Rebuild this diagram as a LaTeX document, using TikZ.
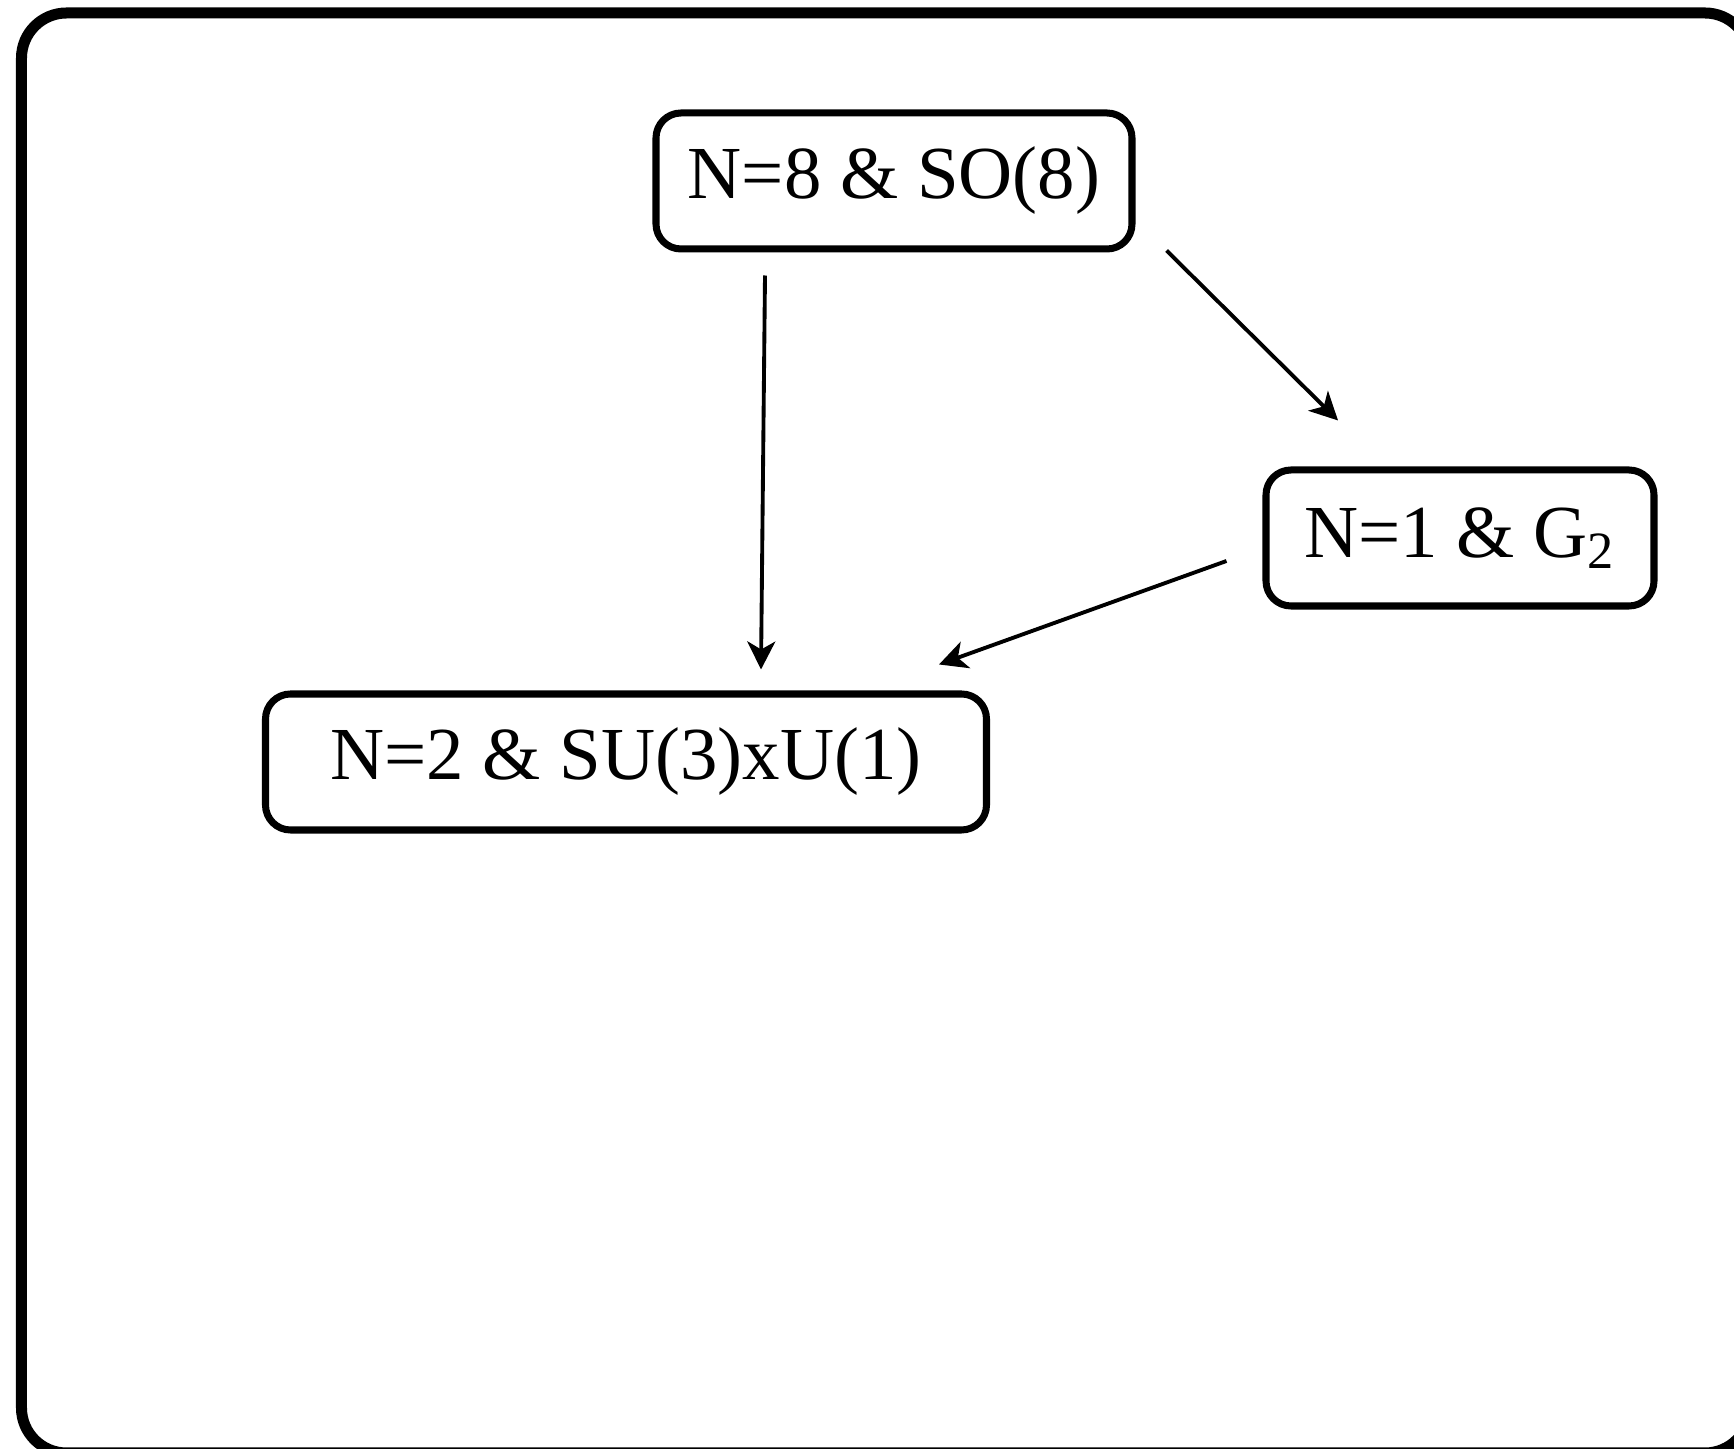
\documentclass[tikz,border=0pt]{standalone}
\usepackage{fontspec}
\setmainfont{Liberation Serif}
\usetikzlibrary{arrows.meta}

\tikzset{
    groupbox/.style={draw, line width=2pt, rounded corners=0.25cm,
        minimum height=1.36cm, inner sep=0pt,
        font=\fontsize{21.3}{25}\selectfont},
    flow/.style={-{Stealth[length=0.28cm, width=0.28cm, inset=0.08cm]}, line width=1.1pt}
}

\begin{document}
\begin{tikzpicture}
        \useasboundingbox (0,0) rectangle (17.34,14.49);
        \draw[line width=0.11cm, rounded corners=0.45cm] (0.215,-0.04) rectangle (17.50,14.36);

        \node[groupbox, minimum width=4.76cm] (so8) at (8.94, 12.68) {N=8 \& SO(8)};
        \node[groupbox, minimum width=3.88cm] (g2) at (14.60, 9.11) {N=1 \& G\textsubscript{2}};
        \node[groupbox, minimum width=7.21cm] (su3) at (6.26, 6.87) {N=2 \& SU(3)xU(1)};

        \draw[flow] ([xshift=-1.29cm, yshift=-0.23cm]so8.south) -- ([xshift=1.35cm, yshift=0.21cm]su3.north);
        \draw[flow] ([xshift=0.31cm, yshift=0.02cm]so8.south east) -- ([xshift=-1.22cm, yshift=0.46cm]g2.north);
        \draw[flow] ([xshift=-0.36cm, yshift=-0.23cm]g2.west) -- ([xshift=-0.51cm, yshift=0.26cm]su3.north east);

    \end{tikzpicture}
\end{document}
